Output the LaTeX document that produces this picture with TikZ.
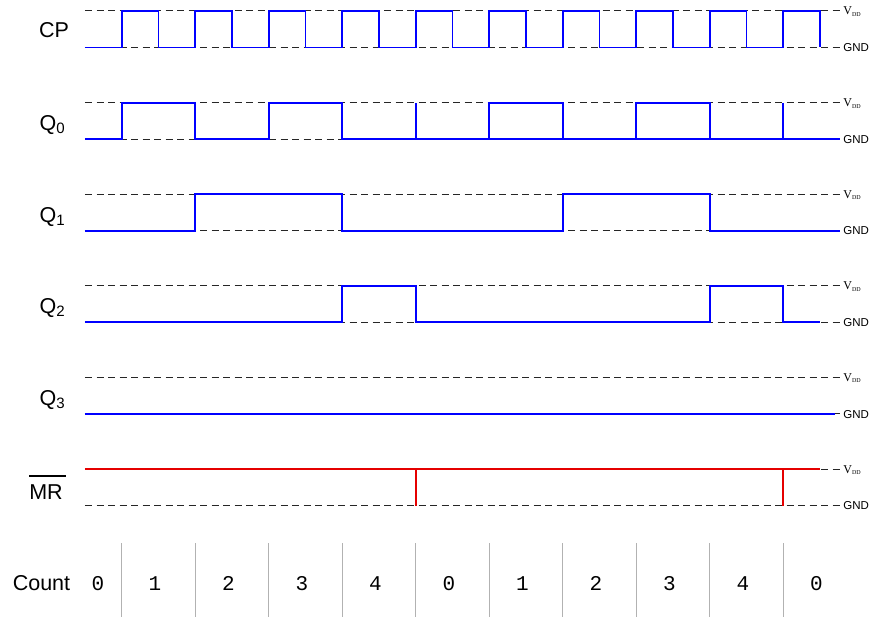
\documentclass[tikz,border=0pt]{standalone}
\usepackage{fontspec}
\setmainfont{Liberation Sans}
\newfontfamily\cntfont{Liberation Mono}
\newfontfamily\rmlabelfont{Liberation Serif}
\usetikzlibrary{arrows.meta}
\tikzset{
  every picture/.style={line join=miter, line cap=butt},
  rail/.style={dash pattern=on 7pt off 4.5pt, line width=1pt, black!85},
  wave/.style={line width=1.8pt, blue},
  reset/.style={line width=1.8pt, red!90!black},
  tick/.style={line width=0.9pt, black!30},
  sig/.style={font=\fontsize{21.5}{25}\selectfont, anchor=base, inner sep=0pt},
  cnt/.style={font=\cntfont\fontsize{21}{25}\selectfont, anchor=base, inner sep=0pt},
  lvl/.style={anchor=base west, inner sep=0pt},
}
\newcommand{\VddLabel}{{\rmlabelfont\fontsize{12}{12}\selectfont V\raisebox{-1.5pt}{\fontsize{6}{6}\selectfont DD}}}
\newcommand{\GndLabel}{{\fontsize{11.5}{12}\selectfont GND}}

\begin{document}
\begin{tikzpicture}[x=36.75pt,y=-1pt]
\useasboundingbox (-2.3129,0) rectangle (21.469,623);
% supply rails
\foreach \h/\l [count=\r] in {11/47.5,102.6/139.1,194.2/230.7,285.8/322.3,377.4/413.9,469/505.5}{
  \draw[rail] (0,\h) -- (20.54,\h);
  \draw[rail] (0,\l) -- (20.54,\l);
  \node[lvl] (vdd\r) at (20.63,\h+4) {\VddLabel};
  \node[lvl] (gnd\r) at (20.63,\l+4.2) {\GndLabel};
}
% clock
\draw[wave] (0,47.5) \foreach \i in {1,3,...,19}{ -| (\i,11) -| (\i+1,47.5)};
% outputs
\draw[wave] (0,139.1) -| (1,102.6) -| (3,139.1) -| (5,102.6) -| (7,139.1) -- (20.54,139.1);
\draw[wave] (11,139.1) |- (13,102.6) -- (13,139.1);
\draw[wave] (15,139.1) |- (17,102.6) -- (17,139.1);
\draw[wave] (9,139.1) -- (9,102.6);
\draw[wave] (19,139.1) -- (19,102.6);
\draw[wave] (0,230.7) -| (3,194.2) -| (7,230.7) -| (13,194.2) -| (17,230.7) -- (20.54,230.7);
\draw[wave] (0,322.3) -| (7,285.8) -| (9,322.3) -| (17,285.8) -| (19,322.3) -- (20,322.3);
\draw[wave] (0,413.9) -- (20.4,413.9);
% master reset
\draw[reset] (0,469) -- (20,469);
\draw[reset] (9,469) -- (9,505.5);
\draw[reset] (19,469) -- (19,505.5);
% signal names
\node[sig] (cp) at (-0.844,37.5) {CP};
\node[sig] (q0) at (-0.884,130.5) {Q\textsubscript{0}};
\node[sig] (q1) at (-0.884,222) {Q\textsubscript{1}};
\node[sig] (q2) at (-0.884,313.6) {Q\textsubscript{2}};
\node[sig] (q3) at (-0.884,405.2) {Q\textsubscript{3}};
\node[sig] (mr) at (-1.061,499) {MR};
\draw[line width=1.1pt] ([yshift=8pt]mr.north west) -- ([xshift=3pt,yshift=8pt]mr.north east);
% count
\node[sig] (count) at (-1.184,590.5) {Count};
\foreach \x in {1,3,...,19} \draw[tick] (\x,543) -- (\x,617);
\node[cnt] (n0) at (0.354,590) {0};
\foreach \n [count=\k] in {1,2,3,4,0,1,2,3,4,0}
  \node[cnt] (n\k) at (2*\k-0.1,590) {\n};
\end{tikzpicture}
\end{document}
